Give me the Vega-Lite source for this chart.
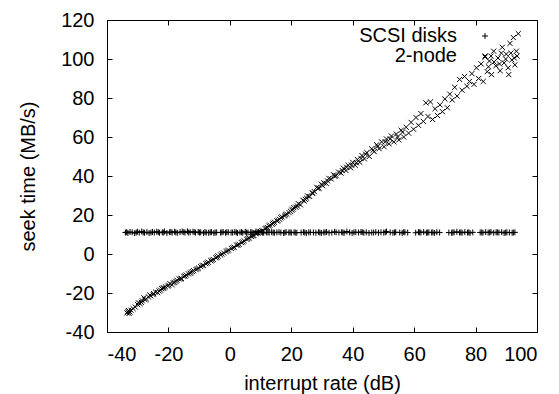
{
  "$schema": "https://vega.github.io/schema/vega-lite/v6.json",
  "width": 430,
  "height": 312,
  "autosize": "none",
  "padding": {"left": 107, "top": 20, "right": 22, "bottom": 62},
  "background": "white",
  "config": {
    "view": {"stroke": "black", "strokeWidth": 1},
    "font": "Liberation Sans",
    "axis": {
      "grid": false,
      "domain": false,
      "tickColor": "black",
      "tickSize": -5,
      "tickWidth": 1,
      "labelColor": "black",
      "labelFont": "Liberation Sans",
      "labelFontSize": 20,
      "labelExpr": "'' + datum.value",
      "titleColor": "black",
      "titleFont": "Liberation Sans",
      "titleFontSize": 20,
      "titleFontWeight": "normal"
    }
  },
  "datasets": {
    "pts": [
      {"s": "2-node", "x": -33.5, "y": -30.2}, {"s": "2-node", "x": -33.0, "y": -29.0}, {"s": "2-node", "x": -32.8, "y": -30.5},
      {"s": "2-node", "x": -32.2, "y": -28.8}, {"s": "2-node", "x": -31.5, "y": -28.0}, {"s": "2-node", "x": -30.0, "y": -26.0},
      {"s": "2-node", "x": -29.2, "y": -25.5}, {"s": "2-node", "x": -28.5, "y": -24.0}, {"s": "2-node", "x": -28.0, "y": -22.5},
      {"s": "2-node", "x": -27.2, "y": -23.0}, {"s": "2-node", "x": -26.5, "y": -22.0}, {"s": "2-node", "x": -25.8, "y": -21.5},
      {"s": "2-node", "x": -25.0, "y": -20.8}, {"s": "2-node", "x": -24.2, "y": -19.5}, {"s": "2-node", "x": -23.5, "y": -19.8},
      {"s": "2-node", "x": -22.6, "y": -18.5}, {"s": "2-node", "x": -21.8, "y": -17.5}, {"s": "2-node", "x": -21.0, "y": -16.8},
      {"s": "2-node", "x": -20.2, "y": -16.5}, {"s": "2-node", "x": -19.5, "y": -15.2}, {"s": "2-node", "x": -18.8, "y": -15.8},
      {"s": "2-node", "x": -18.0, "y": -14.5}, {"s": "2-node", "x": -17.2, "y": -13.5}, {"s": "2-node", "x": -16.5, "y": -12.8},
      {"s": "2-node", "x": -15.8, "y": -12.5}, {"s": "2-node", "x": -15.0, "y": -11.5}, {"s": "2-node", "x": -14.2, "y": -10.8},
      {"s": "2-node", "x": -13.5, "y": -10.2}, {"s": "2-node", "x": -12.6, "y": -9.5}, {"s": "2-node", "x": -11.8, "y": -8.5},
      {"s": "2-node", "x": -11.0, "y": -8.0}, {"s": "2-node", "x": -10.2, "y": -7.2}, {"s": "2-node", "x": -9.5, "y": -6.5},
      {"s": "2-node", "x": -8.6, "y": -5.8}, {"s": "2-node", "x": -7.8, "y": -5.0}, {"s": "2-node", "x": -7.0, "y": -4.2},
      {"s": "2-node", "x": -6.2, "y": -3.5}, {"s": "2-node", "x": -5.4, "y": -2.8}, {"s": "2-node", "x": -4.5, "y": -2.0},
      {"s": "2-node", "x": -3.8, "y": -1.0}, {"s": "2-node", "x": -3.0, "y": -0.5}, {"s": "2-node", "x": -2.0, "y": 0.5},
      {"s": "2-node", "x": -1.2, "y": 1.2}, {"s": "2-node", "x": -0.4, "y": 2.0}, {"s": "2-node", "x": 0.5, "y": 2.8},
      {"s": "2-node", "x": 1.4, "y": 3.5}, {"s": "2-node", "x": 2.2, "y": 4.5}, {"s": "2-node", "x": 3.0, "y": 5.0},
      {"s": "2-node", "x": 3.8, "y": 5.8}, {"s": "2-node", "x": 4.6, "y": 6.8}, {"s": "2-node", "x": 5.5, "y": 7.5},
      {"s": "2-node", "x": 6.3, "y": 8.2}, {"s": "2-node", "x": 7.0, "y": 9.0}, {"s": "2-node", "x": 7.8, "y": 9.5},
      {"s": "2-node", "x": 8.5, "y": 10.4}, {"s": "2-node", "x": 9.2, "y": 10.8}, {"s": "2-node", "x": 10.0, "y": 11.5},
      {"s": "2-node", "x": 10.8, "y": 12.0}, {"s": "2-node", "x": 11.5, "y": 13.0}, {"s": "2-node", "x": 12.3, "y": 13.5},
      {"s": "2-node", "x": 13.0, "y": 14.8}, {"s": "2-node", "x": 13.8, "y": 15.2}, {"s": "2-node", "x": 14.5, "y": 16.3},
      {"s": "2-node", "x": 15.3, "y": 17.0}, {"s": "2-node", "x": 16.2, "y": 17.8}, {"s": "2-node", "x": 17.0, "y": 19.0},
      {"s": "2-node", "x": 17.8, "y": 19.5}, {"s": "2-node", "x": 18.5, "y": 20.5}, {"s": "2-node", "x": 19.3, "y": 21.2},
      {"s": "2-node", "x": 20.2, "y": 22.5}, {"s": "2-node", "x": 20.8, "y": 23.8}, {"s": "2-node", "x": 21.5, "y": 24.0},
      {"s": "2-node", "x": 22.3, "y": 25.8}, {"s": "2-node", "x": 23.0, "y": 25.2}, {"s": "2-node", "x": 23.8, "y": 27.5},
      {"s": "2-node", "x": 24.6, "y": 28.0}, {"s": "2-node", "x": 25.3, "y": 29.8}, {"s": "2-node", "x": 26.0, "y": 29.5},
      {"s": "2-node", "x": 26.8, "y": 31.5}, {"s": "2-node", "x": 27.5, "y": 32.0}, {"s": "2-node", "x": 28.3, "y": 34.2},
      {"s": "2-node", "x": 29.0, "y": 33.8}, {"s": "2-node", "x": 29.8, "y": 35.8}, {"s": "2-node", "x": 30.6, "y": 36.5},
      {"s": "2-node", "x": 31.4, "y": 36.2}, {"s": "2-node", "x": 32.2, "y": 38.8}, {"s": "2-node", "x": 33.0, "y": 38.5},
      {"s": "2-node", "x": 33.8, "y": 40.6}, {"s": "2-node", "x": 34.6, "y": 40.2}, {"s": "2-node", "x": 35.4, "y": 42.0},
      {"s": "2-node", "x": 36.2, "y": 41.5}, {"s": "2-node", "x": 37.0, "y": 44.0}, {"s": "2-node", "x": 37.8, "y": 42.8},
      {"s": "2-node", "x": 38.5, "y": 45.5}, {"s": "2-node", "x": 39.3, "y": 44.2}, {"s": "2-node", "x": 40.0, "y": 47.0},
      {"s": "2-node", "x": 40.8, "y": 45.5}, {"s": "2-node", "x": 41.5, "y": 48.5}, {"s": "2-node", "x": 42.3, "y": 47.0},
      {"s": "2-node", "x": 43.0, "y": 50.5}, {"s": "2-node", "x": 43.8, "y": 48.8}, {"s": "2-node", "x": 44.6, "y": 52.0},
      {"s": "2-node", "x": 45.4, "y": 50.0}, {"s": "2-node", "x": 46.2, "y": 54.0}, {"s": "2-node", "x": 47.0, "y": 52.5},
      {"s": "2-node", "x": 47.8, "y": 56.0}, {"s": "2-node", "x": 48.6, "y": 54.0}, {"s": "2-node", "x": 49.4, "y": 57.5},
      {"s": "2-node", "x": 50.2, "y": 55.0}, {"s": "2-node", "x": 51.0, "y": 59.0}, {"s": "2-node", "x": 51.8, "y": 56.5},
      {"s": "2-node", "x": 52.6, "y": 60.5}, {"s": "2-node", "x": 53.4, "y": 57.5}, {"s": "2-node", "x": 54.2, "y": 61.5},
      {"s": "2-node", "x": 55.0, "y": 58.5}, {"s": "2-node", "x": 55.8, "y": 63.5}, {"s": "2-node", "x": 56.6, "y": 60.0},
      {"s": "2-node", "x": 57.4, "y": 65.0}, {"s": "2-node", "x": 58.2, "y": 62.0}, {"s": "2-node", "x": 59.0, "y": 67.5},
      {"s": "2-node", "x": 59.8, "y": 64.0}, {"s": "2-node", "x": 60.6, "y": 70.0}, {"s": "2-node", "x": 61.4, "y": 66.0},
      {"s": "2-node", "x": 62.2, "y": 72.0}, {"s": "2-node", "x": 63.0, "y": 68.0}, {"s": "2-node", "x": 63.8, "y": 77.5},
      {"s": "2-node", "x": 64.5, "y": 70.5}, {"s": "2-node", "x": 65.3, "y": 78.0}, {"s": "2-node", "x": 66.0, "y": 69.0},
      {"s": "2-node", "x": 66.8, "y": 74.5}, {"s": "2-node", "x": 67.6, "y": 71.0}, {"s": "2-node", "x": 68.4, "y": 76.5},
      {"s": "2-node", "x": 69.2, "y": 73.0}, {"s": "2-node", "x": 70.0, "y": 79.5}, {"s": "2-node", "x": 70.8, "y": 75.0},
      {"s": "2-node", "x": 71.6, "y": 82.0}, {"s": "2-node", "x": 72.4, "y": 79.0}, {"s": "2-node", "x": 73.2, "y": 85.5},
      {"s": "2-node", "x": 74.0, "y": 81.0}, {"s": "2-node", "x": 74.8, "y": 89.5}, {"s": "2-node", "x": 75.6, "y": 84.0},
      {"s": "2-node", "x": 76.4, "y": 91.0}, {"s": "2-node", "x": 77.2, "y": 86.0}, {"s": "2-node", "x": 78.0, "y": 88.5},
      {"s": "2-node", "x": 78.8, "y": 92.5}, {"s": "2-node", "x": 79.5, "y": 87.0}, {"s": "2-node", "x": 80.3, "y": 95.5},
      {"s": "2-node", "x": 81.0, "y": 90.0}, {"s": "2-node", "x": 81.8, "y": 97.5}, {"s": "2-node", "x": 82.5, "y": 88.5},
      {"s": "2-node", "x": 83.1, "y": 101.0}, {"s": "2-node", "x": 83.8, "y": 93.5}, {"s": "2-node", "x": 84.5, "y": 99.0},
      {"s": "2-node", "x": 85.2, "y": 92.0}, {"s": "2-node", "x": 85.9, "y": 104.0}, {"s": "2-node", "x": 86.6, "y": 96.5},
      {"s": "2-node", "x": 87.3, "y": 100.5}, {"s": "2-node", "x": 88.0, "y": 94.0}, {"s": "2-node", "x": 88.7, "y": 106.0},
      {"s": "2-node", "x": 89.3, "y": 98.0}, {"s": "2-node", "x": 90.0, "y": 102.5}, {"s": "2-node", "x": 90.6, "y": 95.5},
      {"s": "2-node", "x": 91.2, "y": 108.0}, {"s": "2-node", "x": 91.8, "y": 99.5}, {"s": "2-node", "x": 92.3, "y": 111.0},
      {"s": "2-node", "x": 92.8, "y": 97.0}, {"s": "2-node", "x": 93.3, "y": 104.0}, {"s": "2-node", "x": 93.9, "y": 113.0},
      {"s": "2-node", "x": 84.2, "y": 96.0}, {"s": "2-node", "x": 86.0, "y": 98.5}, {"s": "2-node", "x": 87.8, "y": 97.5},
      {"s": "2-node", "x": 89.8, "y": 100.0}, {"s": "2-node", "x": 91.5, "y": 103.0}, {"s": "2-node", "x": 92.6, "y": 100.5},
      {"s": "2-node", "x": 93.5, "y": 101.5}, {"s": "2-node", "x": 90.8, "y": 92.0}, {"s": "2-node", "x": 88.4, "y": 103.0},
      {"s": "2-node", "x": 85.0, "y": 101.5},
      {"s": "2-node", "x": -33.2, "y": -29.5}, {"s": "2-node", "x": -32.5, "y": -29.8}, {"s": "2-node", "x": -30.8, "y": -27.2},
      {"s": "2-node", "x": -29.8, "y": -25.0}, {"s": "2-node", "x": -28.8, "y": -24.8}, {"s": "2-node", "x": -27.6, "y": -23.5},
      {"s": "2-node", "x": -26.0, "y": -21.0}, {"s": "2-node", "x": -24.8, "y": -20.3}, {"s": "2-node", "x": -23.0, "y": -19.0},
      {"s": "2-node", "x": -22.2, "y": -17.8}, {"s": "2-node", "x": -21.4, "y": -17.4}, {"s": "2-node", "x": -19.9, "y": -16.0},
      {"s": "2-node", "x": -18.4, "y": -14.8}, {"s": "2-node", "x": -17.6, "y": -14.0}, {"s": "2-node", "x": -16.0, "y": -12.8},
      {"s": "2-node", "x": -14.6, "y": -11.3}, {"s": "2-node", "x": -13.0, "y": -9.8}, {"s": "2-node", "x": -12.2, "y": -9.0},
      {"s": "2-node", "x": -10.6, "y": -7.6}, {"s": "2-node", "x": -9.0, "y": -6.0}, {"s": "2-node", "x": -7.4, "y": -4.6},
      {"s": "2-node", "x": -5.8, "y": -3.2}, {"s": "2-node", "x": -4.2, "y": -1.6}, {"s": "2-node", "x": -2.6, "y": 0.0},
      {"s": "2-node", "x": -0.8, "y": 1.6}, {"s": "2-node", "x": 1.0, "y": 3.2}, {"s": "2-node", "x": 2.6, "y": 4.6},
      {"s": "2-node", "x": 4.2, "y": 6.2}, {"s": "2-node", "x": 5.9, "y": 7.9}, {"s": "2-node", "x": 7.4, "y": 9.3},
      {"s": "2-node", "x": 8.9, "y": 10.9}, {"s": "2-node", "x": 10.4, "y": 11.8}, {"s": "2-node", "x": 11.9, "y": 13.3},
      {"s": "2-node", "x": 12.7, "y": 14.3}, {"s": "2-node", "x": 14.1, "y": 15.8}, {"s": "2-node", "x": 15.7, "y": 17.2},
      {"s": "2-node", "x": 16.6, "y": 18.6}, {"s": "2-node", "x": 18.1, "y": 20.1}, {"s": "2-node", "x": 19.8, "y": 21.8},
      {"s": "2-node", "x": 20.5, "y": 23.0}, {"s": "2-node", "x": 22.0, "y": 24.6}, {"s": "2-node", "x": 24.2, "y": 27.2},
      {"s": "2-node", "x": 25.0, "y": 28.6}, {"s": "2-node", "x": 27.0, "y": 31.0}, {"s": "2-node", "x": 28.7, "y": 33.5},
      {"s": "2-node", "x": 30.2, "y": 35.0}, {"s": "2-node", "x": 31.8, "y": 37.5}, {"s": "2-node", "x": 34.2, "y": 39.8},
      {"s": "2-node", "x": 36.6, "y": 42.8}, {"s": "2-node", "x": 38.0, "y": 44.5}, {"s": "2-node", "x": 39.6, "y": 45.6},
      {"s": "2-node", "x": 41.2, "y": 46.8}, {"s": "2-node", "x": 42.7, "y": 49.0}, {"s": "2-node", "x": 44.2, "y": 51.2},
      {"s": "2-node", "x": 46.6, "y": 53.2}, {"s": "2-node", "x": 48.2, "y": 55.2}, {"s": "2-node", "x": 50.6, "y": 57.5},
      {"s": "2-node", "x": 52.2, "y": 59.0}, {"s": "2-node", "x": 54.6, "y": 60.0}, {"s": "2-node", "x": 56.2, "y": 62.5},
      {"s": "SCSI disks", "x": -34.0, "y": 11.0}, {"s": "SCSI disks", "x": -33.2, "y": 10.8}, {"s": "SCSI disks", "x": -32.5, "y": 11.3},
      {"s": "SCSI disks", "x": -31.8, "y": 11.1}, {"s": "SCSI disks", "x": -31.0, "y": 10.7}, {"s": "SCSI disks", "x": -30.1, "y": 11.4},
      {"s": "SCSI disks", "x": -29.5, "y": 11.0}, {"s": "SCSI disks", "x": -28.7, "y": 11.5}, {"s": "SCSI disks", "x": -27.8, "y": 10.9},
      {"s": "SCSI disks", "x": -27.0, "y": 11.2}, {"s": "SCSI disks", "x": -26.3, "y": 10.8}, {"s": "SCSI disks", "x": -25.2, "y": 11.3},
      {"s": "SCSI disks", "x": -24.6, "y": 11.0}, {"s": "SCSI disks", "x": -23.8, "y": 11.4}, {"s": "SCSI disks", "x": -22.9, "y": 10.9},
      {"s": "SCSI disks", "x": -22.0, "y": 11.1}, {"s": "SCSI disks", "x": -21.3, "y": 11.5}, {"s": "SCSI disks", "x": -20.5, "y": 10.8},
      {"s": "SCSI disks", "x": -19.6, "y": 11.2}, {"s": "SCSI disks", "x": -18.8, "y": 11.0}, {"s": "SCSI disks", "x": -18.0, "y": 11.4},
      {"s": "SCSI disks", "x": -17.1, "y": 10.9}, {"s": "SCSI disks", "x": -16.2, "y": 11.2}, {"s": "SCSI disks", "x": -15.5, "y": 11.5},
      {"s": "SCSI disks", "x": -14.6, "y": 11.0}, {"s": "SCSI disks", "x": -13.8, "y": 11.6}, {"s": "SCSI disks", "x": -12.9, "y": 11.2},
      {"s": "SCSI disks", "x": -12.0, "y": 11.4}, {"s": "SCSI disks", "x": -11.2, "y": 11.0}, {"s": "SCSI disks", "x": -10.3, "y": 11.3},
      {"s": "SCSI disks", "x": -9.5, "y": 11.1}, {"s": "SCSI disks", "x": -8.6, "y": 10.8}, {"s": "SCSI disks", "x": -7.7, "y": 11.0},
      {"s": "SCSI disks", "x": -6.9, "y": 10.9}, {"s": "SCSI disks", "x": -6.0, "y": 11.2}, {"s": "SCSI disks", "x": -5.2, "y": 10.8},
      {"s": "SCSI disks", "x": -4.3, "y": 11.1}, {"s": "SCSI disks", "x": -3.0, "y": 11.0}, {"s": "SCSI disks", "x": -2.2, "y": 11.3},
      {"s": "SCSI disks", "x": -1.4, "y": 10.9}, {"s": "SCSI disks", "x": -0.5, "y": 11.1}, {"s": "SCSI disks", "x": 0.4, "y": 11.0},
      {"s": "SCSI disks", "x": 1.6, "y": 11.3}, {"s": "SCSI disks", "x": 2.5, "y": 10.8}, {"s": "SCSI disks", "x": 3.3, "y": 11.1},
      {"s": "SCSI disks", "x": 4.2, "y": 10.9}, {"s": "SCSI disks", "x": 5.0, "y": 11.4}, {"s": "SCSI disks", "x": 5.9, "y": 11.0},
      {"s": "SCSI disks", "x": 6.8, "y": 11.2}, {"s": "SCSI disks", "x": 7.6, "y": 10.8}, {"s": "SCSI disks", "x": 8.5, "y": 11.5},
      {"s": "SCSI disks", "x": 9.3, "y": 11.0}, {"s": "SCSI disks", "x": 10.2, "y": 11.3}, {"s": "SCSI disks", "x": 11.0, "y": 10.9},
      {"s": "SCSI disks", "x": 11.9, "y": 11.1}, {"s": "SCSI disks", "x": 12.8, "y": 11.0}, {"s": "SCSI disks", "x": 13.6, "y": 11.2},
      {"s": "SCSI disks", "x": 14.5, "y": 10.9}, {"s": "SCSI disks", "x": 15.3, "y": 11.1}, {"s": "SCSI disks", "x": 16.6, "y": 11.0},
      {"s": "SCSI disks", "x": 17.5, "y": 10.8}, {"s": "SCSI disks", "x": 18.3, "y": 11.2}, {"s": "SCSI disks", "x": 19.2, "y": 11.0},
      {"s": "SCSI disks", "x": 20.0, "y": 10.9}, {"s": "SCSI disks", "x": 20.9, "y": 11.1}, {"s": "SCSI disks", "x": 21.8, "y": 10.9},
      {"s": "SCSI disks", "x": 23.2, "y": 11.0}, {"s": "SCSI disks", "x": 24.0, "y": 11.2}, {"s": "SCSI disks", "x": 24.9, "y": 10.8},
      {"s": "SCSI disks", "x": 25.7, "y": 11.1}, {"s": "SCSI disks", "x": 27.2, "y": 11.0}, {"s": "SCSI disks", "x": 28.0, "y": 10.9},
      {"s": "SCSI disks", "x": 28.9, "y": 11.2}, {"s": "SCSI disks", "x": 29.8, "y": 10.8}, {"s": "SCSI disks", "x": 30.6, "y": 11.1},
      {"s": "SCSI disks", "x": 31.5, "y": 11.3}, {"s": "SCSI disks", "x": 32.3, "y": 10.9}, {"s": "SCSI disks", "x": 33.2, "y": 11.0},
      {"s": "SCSI disks", "x": 34.1, "y": 11.4}, {"s": "SCSI disks", "x": 35.5, "y": 11.0}, {"s": "SCSI disks", "x": 36.4, "y": 11.2},
      {"s": "SCSI disks", "x": 37.2, "y": 10.9}, {"s": "SCSI disks", "x": 38.1, "y": 11.5}, {"s": "SCSI disks", "x": 39.0, "y": 11.1},
      {"s": "SCSI disks", "x": 39.8, "y": 10.8}, {"s": "SCSI disks", "x": 41.0, "y": 11.2}, {"s": "SCSI disks", "x": 41.9, "y": 11.0},
      {"s": "SCSI disks", "x": 42.7, "y": 11.3}, {"s": "SCSI disks", "x": 43.6, "y": 10.9}, {"s": "SCSI disks", "x": 44.4, "y": 11.1},
      {"s": "SCSI disks", "x": 45.3, "y": 10.8}, {"s": "SCSI disks", "x": 46.2, "y": 11.0}, {"s": "SCSI disks", "x": 47.5, "y": 11.2},
      {"s": "SCSI disks", "x": 48.4, "y": 10.9}, {"s": "SCSI disks", "x": 49.2, "y": 11.1}, {"s": "SCSI disks", "x": 50.1, "y": 11.0},
      {"s": "SCSI disks", "x": 51.0, "y": 11.5}, {"s": "SCSI disks", "x": 52.2, "y": 11.1}, {"s": "SCSI disks", "x": 53.1, "y": 10.9},
      {"s": "SCSI disks", "x": 54.0, "y": 11.2}, {"s": "SCSI disks", "x": 55.3, "y": 11.0}, {"s": "SCSI disks", "x": 56.1, "y": 10.8},
      {"s": "SCSI disks", "x": 57.0, "y": 11.1}, {"s": "SCSI disks", "x": 57.9, "y": 11.0}, {"s": "SCSI disks", "x": 60.5, "y": 10.9},
      {"s": "SCSI disks", "x": 61.4, "y": 11.2}, {"s": "SCSI disks", "x": 62.2, "y": 11.0}, {"s": "SCSI disks", "x": 63.1, "y": 11.3},
      {"s": "SCSI disks", "x": 64.0, "y": 10.9}, {"s": "SCSI disks", "x": 64.8, "y": 11.1}, {"s": "SCSI disks", "x": 65.7, "y": 11.0},
      {"s": "SCSI disks", "x": 66.6, "y": 10.8}, {"s": "SCSI disks", "x": 67.4, "y": 11.2}, {"s": "SCSI disks", "x": 68.3, "y": 11.0},
      {"s": "SCSI disks", "x": 71.3, "y": 11.0}, {"s": "SCSI disks", "x": 72.2, "y": 10.9}, {"s": "SCSI disks", "x": 73.0, "y": 11.1},
      {"s": "SCSI disks", "x": 73.9, "y": 11.4}, {"s": "SCSI disks", "x": 74.8, "y": 11.0}, {"s": "SCSI disks", "x": 75.6, "y": 10.9},
      {"s": "SCSI disks", "x": 76.5, "y": 11.2}, {"s": "SCSI disks", "x": 77.4, "y": 11.0}, {"s": "SCSI disks", "x": 78.2, "y": 10.8},
      {"s": "SCSI disks", "x": 79.1, "y": 11.1}, {"s": "SCSI disks", "x": 81.5, "y": 11.0}, {"s": "SCSI disks", "x": 82.4, "y": 10.9},
      {"s": "SCSI disks", "x": 83.3, "y": 11.2}, {"s": "SCSI disks", "x": 84.1, "y": 11.0}, {"s": "SCSI disks", "x": 85.0, "y": 11.3},
      {"s": "SCSI disks", "x": 85.9, "y": 10.9}, {"s": "SCSI disks", "x": 86.7, "y": 11.1}, {"s": "SCSI disks", "x": 87.6, "y": 11.0},
      {"s": "SCSI disks", "x": 88.5, "y": 11.2}, {"s": "SCSI disks", "x": 89.3, "y": 10.8}, {"s": "SCSI disks", "x": 90.2, "y": 11.1},
      {"s": "SCSI disks", "x": 91.0, "y": 11.0}, {"s": "SCSI disks", "x": 91.9, "y": 10.9}, {"s": "SCSI disks", "x": 92.8, "y": 11.1},
      {"s": "SCSI disks", "x": -33.6, "y": 11.2}, {"s": "SCSI disks", "x": -30.5, "y": 11.0}, {"s": "SCSI disks", "x": -28.2, "y": 11.1},
      {"s": "SCSI disks", "x": -25.7, "y": 11.0}, {"s": "SCSI disks", "x": -23.3, "y": 11.2}, {"s": "SCSI disks", "x": -21.7, "y": 11.0},
      {"s": "SCSI disks", "x": -19.2, "y": 11.3}, {"s": "SCSI disks", "x": -17.6, "y": 11.1}, {"s": "SCSI disks", "x": -15.0, "y": 11.2},
      {"s": "SCSI disks", "x": -13.4, "y": 11.0}, {"s": "SCSI disks", "x": -11.6, "y": 11.2}, {"s": "SCSI disks", "x": -9.9, "y": 11.0},
      {"s": "SCSI disks", "x": -8.1, "y": 11.2}, {"s": "SCSI disks", "x": -6.4, "y": 11.1}, {"s": "SCSI disks", "x": -4.8, "y": 11.0},
      {"s": "SCSI disks", "x": -2.6, "y": 11.1}, {"s": "SCSI disks", "x": -1.0, "y": 11.2}, {"s": "SCSI disks", "x": 0.9, "y": 11.0},
      {"s": "SCSI disks", "x": 2.1, "y": 11.1}, {"s": "SCSI disks", "x": 3.8, "y": 11.2}, {"s": "SCSI disks", "x": 5.4, "y": 11.0},
      {"s": "SCSI disks", "x": 7.2, "y": 11.1}, {"s": "SCSI disks", "x": 8.9, "y": 11.2}, {"s": "SCSI disks", "x": 10.6, "y": 11.0},
      {"s": "SCSI disks", "x": 12.4, "y": 11.1}, {"s": "SCSI disks", "x": 14.1, "y": 11.0}, {"s": "SCSI disks", "x": 16.0, "y": 11.2},
      {"s": "SCSI disks", "x": 17.9, "y": 11.0}, {"s": "SCSI disks", "x": 19.6, "y": 11.1}, {"s": "SCSI disks", "x": 21.3, "y": 11.0},
      {"s": "SCSI disks", "x": 24.4, "y": 11.0}, {"s": "SCSI disks", "x": 26.2, "y": 11.1}, {"s": "SCSI disks", "x": 29.3, "y": 11.0},
      {"s": "SCSI disks", "x": 31.0, "y": 11.1}, {"s": "SCSI disks", "x": 34.6, "y": 11.1}, {"s": "SCSI disks", "x": 36.8, "y": 11.0},
      {"s": "SCSI disks", "x": 40.4, "y": 11.1}, {"s": "SCSI disks", "x": 43.1, "y": 11.2}, {"s": "SCSI disks", "x": 46.8, "y": 11.0},
      {"s": "SCSI disks", "x": 50.6, "y": 11.1}, {"s": "SCSI disks", "x": 53.6, "y": 11.0}, {"s": "SCSI disks", "x": 56.6, "y": 11.2},
      {"s": "SCSI disks", "x": 61.8, "y": 11.1}, {"s": "SCSI disks", "x": 64.4, "y": 11.0}, {"s": "SCSI disks", "x": 66.1, "y": 11.1},
      {"s": "SCSI disks", "x": 72.6, "y": 11.0}, {"s": "SCSI disks", "x": 75.2, "y": 11.1}, {"s": "SCSI disks", "x": 77.8, "y": 11.1},
      {"s": "SCSI disks", "x": 82.0, "y": 11.1}, {"s": "SCSI disks", "x": 84.6, "y": 11.0}, {"s": "SCSI disks", "x": 87.1, "y": 11.1},
      {"s": "SCSI disks", "x": 89.8, "y": 11.0}, {"s": "SCSI disks", "x": 92.3, "y": 11.0}
    ]
  },
  "data": {"name": "pts"},
  "layer": [
    {
      "mark": {"type": "point", "filled": false, "stroke": "black", "strokeWidth": 1, "size": 36, "opacity": 1},
      "encoding": {
        "x": {"field": "x", "type": "quantitative", "scale": {"domain": [-40, 100], "nice": false, "zero": false},
              "axis": {"orient": "bottom", "values": [-40, -20, 0, 20, 40, 60, 80, 100], "labelPadding": 17, "title": "interrupt rate (dB)", "titleY": 57, "titleBaseline": "alphabetic"}},
        "y": {"field": "y", "type": "quantitative", "scale": {"domain": [-40, 120], "nice": false, "zero": false},
              "axis": {"orient": "left", "values": [-40, -20, 0, 20, 40, 60, 80, 100, 120], "labelPadding": 18, "title": "seek time (MB/s)", "titleX": -73, "titleBaseline": "alphabetic"}},
        "shape": {"field": "s", "type": "nominal",
                  "scale": {"domain": ["SCSI disks", "2-node"], "range": ["M-1,0L1,0M0,-1L0,1", "M-0.85,-0.85L0.85,0.85M-0.85,0.85L0.85,-0.85"]},
                  "legend": {"orient": "none", "legendX": 368, "legendY": 6, "title": null, "labelAlign": "right", "labelOffset": -38,
                             "labelFontSize": 20, "labelFont": "Liberation Sans", "labelColor": "black", "labelLimit": 0,
                             "symbolSize": 36, "symbolStrokeColor": "black", "symbolStrokeWidth": 1, "symbolFillColor": "transparent", "rowPadding": 0}}
      }
    },
    {
      "mark": {"type": "point", "opacity": 0},
      "encoding": {
        "x": {"field": "x", "type": "quantitative", "scale": {"domain": [-40, 100], "nice": false, "zero": false},
              "axis": {"orient": "top", "values": [-40, -20, 0, 20, 40, 60, 80, 100], "labels": false, "title": null}},
        "y": {"field": "y", "type": "quantitative", "scale": {"domain": [-40, 120], "nice": false, "zero": false},
              "axis": {"orient": "right", "values": [-40, -20, 0, 20, 40, 60, 80, 100, 120], "labels": false, "title": null}}
      }
    }
  ],
  "resolve": {"axis": {"x": "independent", "y": "independent"}}
}
